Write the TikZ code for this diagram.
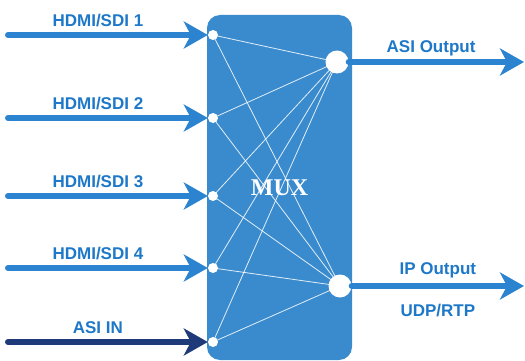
\documentclass[tikz,border=0pt]{standalone}
\usepackage{fontspec}
\setmainfont{Liberation Sans}
\newfontfamily\muxfont{Liberation Serif}
\usetikzlibrary{arrows.meta,positioning}

\definecolor{boxblue}{RGB}{58,139,206}
\definecolor{arrblue}{RGB}{44,132,208}
\definecolor{txtblue}{RGB}{30,120,200}
\definecolor{asinavy}{RGB}{30,58,120}

\begin{document}
\begin{tikzpicture}[
    x = 1pt, y = -1pt,
    muxbox/.style = {fill=boxblue,
                     rounded corners=13pt,
                     minimum width=145pt,
                     minimum height=345pt,
                     inner sep=0pt,
                     text=white,
                     font=\muxfont\bfseries\fontsize{24}{28}\selectfont},
    indot/.style  = {circle, fill=white, inner sep=0pt, minimum size=10pt},
    outdot/.style = {circle, fill=white, inner sep=0pt, minimum size=23pt},
    wire/.style   = {white, line width=0.8pt, opacity=0.85},
    arr/.style    = {arrblue,
                     line width=6pt,
                     line cap=round,
                     -{Stealth[length=24pt, width=27pt, inset=7pt]}},
    lbl/.style    = {text=txtblue,
                     font=\bfseries\fontsize{17}{20}\selectfont}
]
\useasboundingbox (0,0) rectangle (525,361);

\node (mux) [muxbox] at (279.5,187.5) {MUX};

% input and output points
\node (i1) [indot] at (213,35)  {};
\node (i2) [indot] at (213,118) {};
\node (i3) [indot] at (213,196) {};
\node (i4) [indot] at (213,268) {};
\node (i5) [indot] at (213,342) {};
\node (o1) [outdot] at (337,62)  {};
\node (o2) [outdot] at (340,286) {};

\foreach \i in {1,...,5}
    \foreach \o in {1,2}
        \draw[wire] (i\i.center) -- (o\o.center);

\coordinate (s1) at (8,35);
\coordinate (s2) at (8,118);
\coordinate (s3) at (8,196);
\coordinate (s4) at (8,268);
\coordinate (s5) at (8,342);
\coordinate (e1) at (524,62);
\coordinate (e2) at (524,286);

\draw[arr] (s1) -- node[lbl, above=2pt, pos=0.45] {HDMI/SDI 1} (i1);
\draw[arr] (s2) -- node[lbl, above=2pt, pos=0.45] {HDMI/SDI 2} (i2);
\draw[arr] (s3) -- node[lbl, above=2pt, pos=0.45] {HDMI/SDI 3} (i3);
\draw[arr] (s4) -- node[lbl, above=2pt, pos=0.45] {HDMI/SDI 4} (i4);
\draw[arr, asinavy] (s5) -- node[lbl, above=2pt, pos=0.45] {ASI IN} (i5);

\draw[arr] (o1) -- node[lbl, above=0pt, pos=0.47] {ASI Output} (e1);
\draw[arr] (o2) -- node[lbl, above=2pt, pos=0.5] {IP Output}
                   node[lbl, below=12pt, pos=0.5] {UDP/RTP} (e2);

\end{tikzpicture}
\end{document}
